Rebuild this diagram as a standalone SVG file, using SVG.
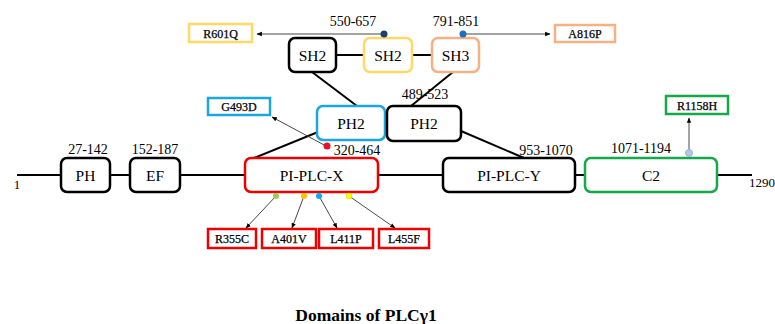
<svg xmlns="http://www.w3.org/2000/svg" width="775" height="324" viewBox="0 0 775 324">
<defs>
<style>
text{font-family:'Liberation Serif','Times New Roman',serif;fill:#000;text-anchor:middle}
.dom{fill:#fff;stroke-width:2.5}
.blk{stroke:#000}
.red{stroke:#ee0000}
.blu{stroke:#1aa7e0}
.grn{stroke:#16a94a}
.yel{stroke:#ffd966}
.org{stroke:#f4b183}
.lbl{font-size:15.5px}
.rng{font-size:14px}
.mut{font-size:12px;stroke:#000;stroke-width:0.25}
.mbox{fill:#fff;stroke-width:2.5}
.ln{stroke:#000;stroke-width:2;fill:none}
.arr{stroke:#333;stroke-width:0.9;fill:none;marker-end:url(#ah)}
</style>
<marker id="ah" viewBox="0 0 10 10" refX="9" refY="5" markerWidth="6" markerHeight="6" orient="auto">
<path d="M0,1 L10,5 L0,9 z" fill="#000"/>
</marker>
</defs>
<rect width="775" height="324" fill="#fff"/>
<g id="connectors">
<line class="ln" x1="17" y1="175" x2="752" y2="175"/>
<line class="ln" x1="336" y1="55" x2="364" y2="55"/>
<line class="ln" x1="412" y1="55" x2="432" y2="55"/>
<line class="ln" x1="312" y1="72" x2="357" y2="106"/>
<line class="ln" x1="453" y1="72" x2="411" y2="106"/>
<line class="ln" x1="318" y1="132" x2="254" y2="158"/>
<line class="ln" x1="461" y1="131" x2="524" y2="158"/>
<line class="arr" x1="384" y1="34" x2="257" y2="34"/>
<line class="arr" x1="463" y1="34" x2="550" y2="34"/>
<line class="arr" x1="326" y1="146" x2="272" y2="117"/>
<line class="arr" x1="689" y1="153" x2="689" y2="118"/>
<line class="arr" x1="276" y1="196" x2="246" y2="228"/>
<line class="arr" x1="304" y1="196" x2="292" y2="228"/>
<line class="arr" x1="319" y1="196" x2="337" y2="228"/>
<line class="arr" x1="349" y1="196" x2="395" y2="228"/>
</g>
<g id="end1"><text x="17" y="189" style="font-size:13px">1</text></g>
<g id="end1290"><text x="749" y="187" style="font-size:13px;text-anchor:start">1290</text></g>
<g id="PH">
<rect class="dom blk" x="61" y="158" width="49" height="34" rx="6"/>
<text class="lbl" x="85.5" y="181">PH</text>
<text class="rng" x="88" y="154">27-142</text>
</g>
<g id="EF">
<rect class="dom blk" x="130" y="158" width="50" height="34" rx="6"/>
<text class="lbl" x="155" y="181">EF</text>
<text class="rng" x="155" y="154">152-187</text>
</g>
<g id="PIPLCX">
<rect class="dom red" x="245" y="158" width="133" height="34" rx="6"/>
<text class="lbl" x="311.5" y="181">PI-PLC-X</text>
<text class="rng" x="357" y="155">320-464</text>
</g>
<g id="PH2a">
<rect class="dom blu" x="317" y="106" width="68" height="34" rx="6"/>
<text class="lbl" x="351" y="129">PH2</text>
</g>
<g id="PH2b">
<rect class="dom blk" x="387" y="106" width="74" height="35" rx="6"/>
<text class="lbl" x="424" y="129">PH2</text>
<text class="rng" x="425" y="99">489-523</text>
</g>
<g id="PIPLCY">
<rect class="dom blk" x="443" y="158" width="132" height="34" rx="6"/>
<text class="lbl" x="509" y="181">PI-PLC-Y</text>
<text class="rng" x="546" y="155">953-1070</text>
</g>
<g id="C2">
<rect class="dom grn" x="585" y="158" width="132" height="34" rx="6"/>
<text class="lbl" x="651" y="181">C2</text>
<text class="rng" x="641" y="153">1071-1194</text>
</g>
<g id="SH2a">
<rect class="dom blk" x="289" y="38" width="47" height="34" rx="6"/>
<text class="lbl" x="312.5" y="61">SH2</text>
</g>
<g id="SH2b">
<rect class="dom yel" x="364" y="38" width="48" height="34" rx="6"/>
<text class="lbl" x="388" y="61">SH2</text>
<text class="rng" x="353" y="26">550-657</text>
</g>
<g id="SH3">
<rect class="dom org" x="432" y="38" width="47" height="34" rx="6"/>
<text class="lbl" x="455.5" y="61">SH3</text>
<text class="rng" x="456" y="26">791-851</text>
</g>
<g id="R601Q">
<rect class="mbox yel" x="189" y="24" width="63" height="18"/>
<text class="mut" x="220.5" y="37.5">R601Q</text>
<circle cx="384" cy="34" r="3.5" fill="#1f3f74"/>
</g>
<g id="A816P">
<rect class="mbox org" x="555" y="25" width="60" height="17"/>
<text class="mut" x="585" y="38">A816P</text>
<circle cx="463" cy="34" r="3.5" fill="#1f6fc0"/>
</g>
<g id="G493D">
<rect class="mbox blu" x="208" y="98" width="62" height="17"/>
<text class="mut" x="239" y="111">G493D</text>
<circle cx="327" cy="146" r="3.5" fill="#e8102a"/>
</g>
<g id="R1158H">
<rect class="mbox grn" x="666" y="96" width="62" height="18"/>
<text class="mut" x="697" y="109.5">R1158H</text>
<circle cx="689" cy="153" r="3.5" fill="#b4c7e7" stroke="#8faadc" stroke-width="0.8"/>
</g>
<g id="R355C">
<rect class="mbox red" x="208" y="229" width="48" height="19"/>
<text class="mut" x="232" y="243">R355C</text>
<circle cx="276" cy="196" r="3" fill="#92d050"/>
</g>
<g id="A401V">
<rect class="mbox red" x="262" y="229" width="54" height="19"/>
<text class="mut" x="289" y="243">A401V</text>
<circle cx="304" cy="196" r="3" fill="#ffc000"/>
</g>
<g id="L411P">
<rect class="mbox red" x="319" y="229" width="54" height="19"/>
<text class="mut" x="346" y="243">L411P</text>
<circle cx="319" cy="196" r="3" fill="#00b0f0"/>
</g>
<g id="L455F">
<rect class="mbox red" x="379" y="229" width="50" height="19"/>
<text class="mut" x="404" y="243">L455F</text>
<circle cx="349" cy="196" r="3" fill="#ffff00" stroke="#c9c400" stroke-width="0.5"/>
</g>
<g id="title">
<text x="366" y="321" style="font-size:17.5px;font-weight:bold">Domains of PLCγ1</text>
</g>
</svg>
